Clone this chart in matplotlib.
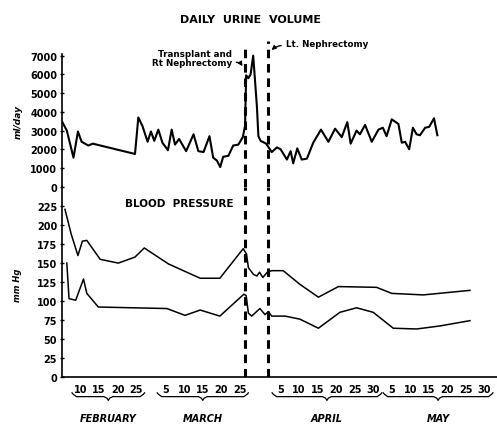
import matplotlib
matplotlib.use("Agg")
import matplotlib.pyplot as plt
import numpy as np

# =========================
# DATA (x = day of year, Feb 1 = 32)
# =========================
urine_day = [36.1, 37.3, 39.1, 40.3, 41.3, 43.1, 44.3, 55.7, 56.6, 57.7,
             59.1, 60.0, 60.9, 62.0, 63.1, 64.6, 65.6, 66.5, 67.6, 69.5,
             71.5, 72.8, 74.2, 75.8, 76.8, 77.8, 78.7, 79.5, 80.9, 82.2,
             83.6, 84.8, 85.4, 85.7, 86.3, 86.9, 87.6, 88.6, 89.0, 89.6,
             91.1, 92.6, 94.0, 95.0, 96.7, 97.7, 98.4, 99.5, 100.7, 102.1,
             103.8, 105.9, 107.9, 109.7, 111.5, 113.0, 113.9, 115.5, 116.4, 117.8,
             119.6, 121.4, 122.6, 123.6, 125.0, 126.8, 127.7, 128.6, 129.7, 130.7,
             131.7, 132.6, 134.0, 135.1, 136.4, 137.3]
urine_ml = [3450, 3000, 1550, 2950, 2400, 2200, 2300, 1750, 3700, 3250,
            2400, 2950, 2450, 3050, 2350, 1950, 3050, 2250, 2550, 1900,
            2800, 1900, 1850, 2700, 1550, 1400, 1050, 1600, 1650, 2200,
            2250, 2650, 3250, 5950, 5800, 6000, 7000, 4300, 2700, 2450,
            2300, 1850, 2100, 2000, 1450, 1900, 1250, 2050, 1450, 1500,
            2350, 3050, 2400, 3100, 2650, 3450, 2300, 3000, 2800, 3300,
            2400, 3050, 3150, 2700, 3600, 3350, 2350, 2400, 2000, 3150,
            2800, 2750, 3150, 3200, 3650, 2750]

sys_day = [36.8, 38.5, 40.3, 41.5, 42.7, 46.3, 51.2, 55.7, 58.2, 64.7,
           69.2, 73.3, 78.6, 84.9, 85.8, 86.3, 87.7, 88.6, 89.3, 90.2,
           91.4, 92.6, 95.7, 100.2, 105.2, 110.6, 120.9, 125.0, 133.5, 146.1]
sys_mm = [221, 188, 160, 179, 180, 155, 150, 158, 170, 149,
          139, 130, 130, 169, 162, 144, 135, 133, 138, 131,
          138, 140, 140, 122, 105, 119, 118, 110, 108, 114]

dia_day = [37.3, 37.9, 39.7, 41.8, 42.7, 45.8, 64.3, 69.2, 73.3, 78.6,
           85.1, 85.7, 86.3, 87.2, 89.4, 90.8, 91.7, 92.6, 96.2, 100.2,
           105.2, 111.0, 115.5, 120.0, 125.4, 131.7, 138.0, 146.1]
dia_mm = [150, 103, 101, 129, 110, 92, 90, 81, 88, 80,
          109, 107, 84, 80, 90, 82, 86, 80, 80, 76,
          64, 85, 91, 85, 64, 63, 67, 74]

event_days = [85.3, 91.5]   # transplant, left nephrectomy

tick_days = [41, 46, 51, 56, 64, 69, 74, 79, 84,
             95, 100, 105, 110, 115, 120, 125, 130, 135, 140, 145, 150]
tick_labels = ["10", "15", "20", "25", "5", "10", "15", "20", "25",
               "5", "10", "15", "20", "25", "30", "5", "10", "15", "20", "25", "30"]

months = ["FEBRUARY", "MARCH", "APRIL", "MAY"]
month_start = [41, 64, 95, 125]
month_end = [56, 84, 120, 150]

urine_ticks = [0, 1000, 2000, 3000, 4000, 5000, 6000, 7000]
bp_ticks = [0, 25, 50, 75, 100, 125, 150, 175, 200, 225]

# =========================
# FIGURE
# =========================
plt.rcParams["font.family"] = "DejaVu Sans"
plt.rcParams["font.weight"] = "bold"

fig = plt.figure(figsize=(4.97, 4.27), dpi=100)
left = 62 / 497
width = 1 - left
ax_u = fig.add_axes([left, 0.5604, width, 0.3462])
ax_l = fig.add_axes([left, 0.1155, width, 0.4449])

XLIM = (36.0, 153.4)
dash = (0, (2.8, 1.9))

# ---- urine panel
ax_u.plot(urine_day, urine_ml, color="black", lw=1.5)
ax_u.set_xlim(*XLIM)
ax_u.set_ylim(0, 7898)
ax_u.set_yticks(urine_ticks)
ax_u.set_yticklabels([str(t) for t in urine_ticks], fontsize=7, fontweight="bold")
ax_u.set_xticks([])
for s in ["top", "right", "bottom"]:
    ax_u.spines[s].set_visible(False)
ax_u.spines["left"].set_bounds(0, 7100)
ax_u.spines["left"].set_linewidth(1.2)
ax_u.tick_params(axis="y", length=3, width=1, direction="inout", pad=2)
ax_u.patch.set_alpha(0)

ax_u.vlines(event_days[0], 0, 7520, colors="black", lw=2.2, linestyles=dash)
ax_u.vlines(event_days[1], 0, 7790, colors="black", lw=2.2, linestyles=dash)

ax_u.text(82.0, 6880, "Transplant and\nRt Nephrectomy", ha="right", va="center",
          fontsize=6.3, fontweight="bold", linespacing=1.1)
ax_u.annotate("", xy=(85.0, 6300), xytext=(82.3, 6650),
              arrowprops=dict(arrowstyle="-|>", color="black", lw=1,
                              mutation_scale=6,
                              connectionstyle="arc3,rad=-0.4"))
ax_u.text(96.4, 7630, "Lt. Nephrectomy", ha="left", va="center",
          fontsize=6.3, fontweight="bold")
ax_u.annotate("", xy=(92.0, 7200), xytext=(95.9, 7560),
              arrowprops=dict(arrowstyle="-|>", color="black", lw=1,
                              mutation_scale=6,
                              connectionstyle="arc3,rad=0.2"))

# ---- blood pressure panel
ax_l.plot(sys_day, sys_mm, color="black", lw=1.1)
ax_l.plot(dia_day, dia_mm, color="black", lw=1.1)
ax_l.set_xlim(*XLIM)
ax_l.set_ylim(0, 250.9)
ax_l.set_yticks(bp_ticks)
ax_l.set_yticklabels([str(t) for t in bp_ticks], fontsize=7, fontweight="bold")
ax_l.set_xticks(tick_days)
ax_l.set_xticklabels(tick_labels, fontsize=7, fontweight="bold")
for s in ["top", "right"]:
    ax_l.spines[s].set_visible(False)
ax_l.spines["left"].set_linewidth(1.2)
ax_l.spines["bottom"].set_linewidth(1.2)
ax_l.tick_params(axis="y", length=3, width=1, direction="inout", pad=2)
ax_l.tick_params(axis="x", length=0, pad=5)
ax_l.patch.set_alpha(0)

ax_l.vlines(event_days, 0, 250.9, colors="black", lw=2.2, linestyles=dash)

ax_l.text(67.6, 229, "BLOOD  PRESSURE", ha="center", va="center",
          fontsize=7.5, fontweight="bold")

# month braces
trans = ax_l.get_xaxis_transform()
y_top, y_mid, y_bot = -0.085, -0.105, -0.125
for name, a, b in zip(months, month_start, month_end):
    x0, x1 = a - 2.3, b + 2.3
    xm = (x0 + x1) / 2
    d = 1.2
    bx = [x0, x0 + d * 0.3, x0 + d, xm - d, xm - d * 0.3, xm, xm + d * 0.3, xm + d,
          x1 - d, x1 - d * 0.3, x1]
    by = [y_top, y_mid + 0.012, y_mid, y_mid, y_mid - 0.008, y_bot, y_mid - 0.008, y_mid,
          y_mid, y_mid + 0.012, y_top]
    ax_l.plot(bx, by, color="black", lw=0.9, transform=trans, clip_on=False)
    ax_l.text(xm, -0.215, name, transform=trans, ha="center", va="center",
              fontsize=7, fontweight="bold", fontstyle="italic")

# titles and axis labels
fig.text(251 / 497, 1 - 20 / 427, "DAILY  URINE  VOLUME", ha="center", va="center",
         fontsize=8, fontweight="bold")
fig.text(18 / 497, 1 - 122 / 427, "ml/day", rotation=90, ha="center", va="center",
         fontsize=6.5, fontweight="bold", fontstyle="italic")
fig.text(18 / 497, 1 - 285 / 427, "mm Hg", rotation=90, ha="center", va="center",
         fontsize=6, fontweight="bold", fontstyle="italic")

fig.savefig("out.png", dpi=100)
